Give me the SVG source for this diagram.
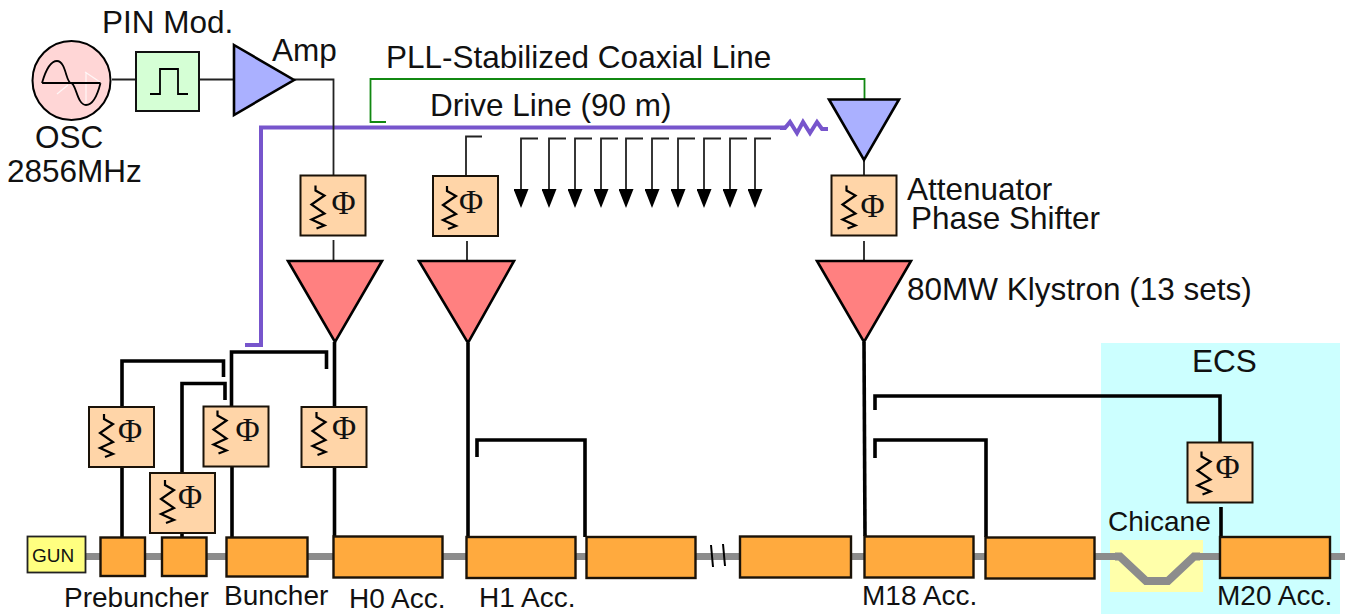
<svg xmlns="http://www.w3.org/2000/svg" xmlns:xlink="http://www.w3.org/1999/xlink" width="1346" height="614" viewBox="0 0 1346 614">
<style>
text{font-family:"Liberation Sans",Arial,sans-serif;fill:#111}
.l{font-size:31.500px}.s{font-size:28px}
.phi{font-family:"Liberation Serif","Times New Roman",serif;font-size:33px;text-anchor:middle}
.box{fill:#ffd5a8;stroke:#1a1208;stroke-width:2}
.acc{fill:#ffaa3e;stroke:#1a1208;stroke-width:2.400}
.kly{fill:#ff8080;stroke:#000;stroke-width:2.600}
.drv{fill:#aab0ff;stroke:#000;stroke-width:2.600}
.thin{fill:none;stroke:#222;stroke-width:1.800}
.thick{fill:none;stroke:#000;stroke-width:3.600}
.pipe{fill:none;stroke:#8c8c8c;stroke-width:7}
.zig{fill:none;stroke:#000;stroke-width:2.200}
</style>
<defs>
<rect id="bx" class="box" width="65" height="60"/>
<path id="zg" class="zig" d="M15,0 V5 L24,10 L11,19 L24,28 L11,34 L24,40 L16,43"/>
<marker id="ah" viewBox="0 0 15 19" refX="7.500" refY="0" markerUnits="userSpaceOnUse" markerWidth="15" markerHeight="19" orient="0"><path d="M0,0H15L7.500,19Z" fill="#000"/></marker>
</defs>
<rect id="ecs-zone" x="1101" y="343" width="239" height="271" fill="#ccffff"/>
<rect id="chicane-zone" x="1110" y="540" width="93" height="52" fill="#ffffaa"/>
<g id="connectors">
<path class="pipe" d="M85,556.500 H1119 M1194,556.500 H1345"/>
<path class="pipe" style="stroke-width:8" d="M1115,556.500 H1120 L1146,581 H1168 L1194,556.500 H1200"/>
<path d="M711,545 L713,567 M723,544 L725,566" fill="none" stroke="#000" stroke-width="2"/>
<path d="M386,122 H370.500 V79 H864.500 V99" fill="none" stroke="#118811" stroke-width="1.800"/>
<path d="M245,345 H261 V127.500 H785" fill="none" stroke="#7755cc" stroke-width="4"/>
<path d="M780,128 H785 L790,122 L797,133 L803,122 L810,133 L817,122 L822,129 H828" fill="none" stroke="#7755cc" stroke-width="4"/>
<path class="thin" d="M112,79.500 H136 M200,79.500 H234 M294,79.500 H333.500 V175 M333.500,240 V261"/>
<path class="thin" d="M466,176 V136.500 H482 M467,241 V261 M864,160 V175 M864,241 V261"/>
<path class="thin" marker-end="url(#ah)" d="M538,138.500 H521 V189"/>
<path class="thin" marker-end="url(#ah)" d="M566,138.500 H549 V189"/>
<path class="thin" marker-end="url(#ah)" d="M592,138.500 H575 V189"/>
<path class="thin" marker-end="url(#ah)" d="M618,138.500 H601 V189"/>
<path class="thin" marker-end="url(#ah)" d="M643,138.500 H626 V189"/>
<path class="thin" marker-end="url(#ah)" d="M669,138.500 H652 V189"/>
<path class="thin" marker-end="url(#ah)" d="M695,138.500 H678 V189"/>
<path class="thin" marker-end="url(#ah)" d="M721,138.500 H704 V189"/>
<path class="thin" marker-end="url(#ah)" d="M747,138.500 H730 V189"/>
<path class="thin" marker-end="url(#ah)" d="M771,138.500 H755 V189"/>
<path class="thick" d="M122,407 V361 H223.500 V377 M122,467 V537"/>
<path class="thick" d="M182,473 V383.500 H225 V400 M182,532 V537"/>
<path class="thick" d="M231.500,406 V352 H326.500 V369 M232,466 V537"/>
<path class="thick" d="M334.500,342 V407 M334.500,467 V536"/>
<path class="thick" d="M468,343 V537"/>
<path class="thick" d="M477,457 V440 H585 V537"/>
<path class="thick" d="M864,342 L865,536"/>
<path class="thick" d="M875,458 V440 H986 V537"/>
<path class="thick" d="M875,410 V396 H1220 V442 M1221,507 V537"/>
</g>
<g id="osc">
<ellipse cx="71.500" cy="80.500" rx="39" ry="39.500" fill="#ffd6d6" stroke="#000" stroke-width="2"/>
<path d="M57,94 L68,85 M85,72 L100,82 M86,72 V103" fill="none" stroke="#fff" stroke-width="1.200" opacity=".8"/>
<path d="M42,83 H100.500 M42,83 C46,69 51,61 57,61 C66,61 66,83 71,83 C76,83 77,105 86,105 C92,105 97,97 100.500,83" fill="none" stroke="#000" stroke-width="1.800"/>
</g>
<g id="pin"><rect x="136" y="52" width="63" height="59" fill="#d5ffd5" stroke="#111" stroke-width="2"/>
<path d="M150,94 H160 V69 H178 V94 H188" fill="none" stroke="#000" stroke-width="1.800"/></g>
<polygon id="amp" class="drv" points="234,45 294,80 234,115"/>
<polygon id="driver" class="drv" points="829,99.500 899,99.500 864,160"/>
<polygon id="kly-h0" class="kly" points="288,261 382,261 335,342"/>
<polygon id="kly-h1" class="kly" points="419,261 514,261 468,343"/>
<polygon id="kly-m18" class="kly" points="817,261 911,261 864,342"/>
<g id="ps-top-h0" transform="translate(300.500,175.500)"><use href="#bx"/><use href="#zg" y="10"/><text class="phi" x="43" y="38">Φ</text></g>
<g id="ps-top-h1" transform="translate(433,176)"><use href="#bx"/><use href="#zg" x="-1" y="10"/><text class="phi" x="38" y="37">Φ</text></g>
<g id="ps-top-m18" transform="translate(831.500,175.500)"><use href="#bx"/><use href="#zg" y="10"/><text class="phi" x="41" y="41">Φ</text></g>
<g id="ps-pb1" transform="translate(89,407)"><use href="#bx"/><use href="#zg" y="7"/><text class="phi" x="41" y="35">Φ</text></g>
<g id="ps-pb2" transform="translate(150,473)"><use href="#bx"/><use href="#zg" y="7"/><text class="phi" x="40" y="35">Φ</text></g>
<g id="ps-bun" transform="translate(203.500,406.500)"><use href="#bx"/><use href="#zg" x="-1" y="4"/><text class="phi" x="44" y="34">Φ</text></g>
<g id="ps-h0" transform="translate(301.500,407)"><use href="#bx"/><use href="#zg" y="5"/><text class="phi" x="42.500" y="32">Φ</text></g>
<g id="ps-ecs" transform="translate(1187.500,442.500)"><use href="#bx"/><use href="#zg" x="-1" y="9"/><text class="phi" x="40" y="35">Φ</text></g>
<g id="gun"><rect x="27.500" y="536.500" width="58" height="36" fill="#ffff80" stroke="#222" stroke-width="1.800"/><text x="32" y="562" font-size="19">GUN</text></g>
<rect id="pb1" class="acc" x="100.500" y="537.500" width="44.500" height="38.500"/>
<rect id="pb2" class="acc" x="162" y="537.500" width="44.500" height="38.500"/>
<rect id="buncher" class="acc" x="226.500" y="537.500" width="81" height="39"/>
<rect id="h0a" class="acc" x="333.500" y="536.500" width="109" height="41"/>
<rect id="h1a" class="acc" x="466.500" y="537" width="109" height="41"/>
<rect id="h1b" class="acc" x="586.500" y="537" width="109" height="41"/>
<rect id="mid" class="acc" x="740" y="536.500" width="111" height="41"/>
<rect id="m18a" class="acc" x="864.500" y="536.500" width="109" height="41"/>
<rect id="m18b" class="acc" x="985.500" y="537.500" width="109" height="41"/>
<rect id="m20" class="acc" x="1220" y="537" width="110" height="41"/>
<g id="labels">
<text class="l" x="102" y="33">PIN Mod.</text>
<text class="l" x="272" y="61">Amp</text>
<text class="l" x="35" y="148">OSC</text>
<text class="l" x="7" y="182">2856MHz</text>
<text class="l" x="386" y="68">PLL-Stabilized Coaxial Line</text>
<text class="l" x="430" y="116">Drive Line (90 m)</text>
<text class="l" x="907" y="199.500">Attenuator</text>
<text class="l" x="911" y="229">Phase Shifter</text>
<text class="l" x="907" y="300">80MW Klystron (13 sets)</text>
<text class="l" x="1192" y="372">ECS</text>
<text class="s" x="1108" y="531">Chicane</text>
<text class="s" x="64" y="607">Prebuncher</text>
<text class="s" x="224" y="605">Buncher</text>
<text class="s" x="349" y="608">H0 Acc.</text>
<text class="s" x="479" y="607">H1 Acc.</text>
<text class="s" x="862" y="605">M18 Acc.</text>
<text class="s" x="1217" y="605">M20 Acc.</text>
</g>
</svg>
